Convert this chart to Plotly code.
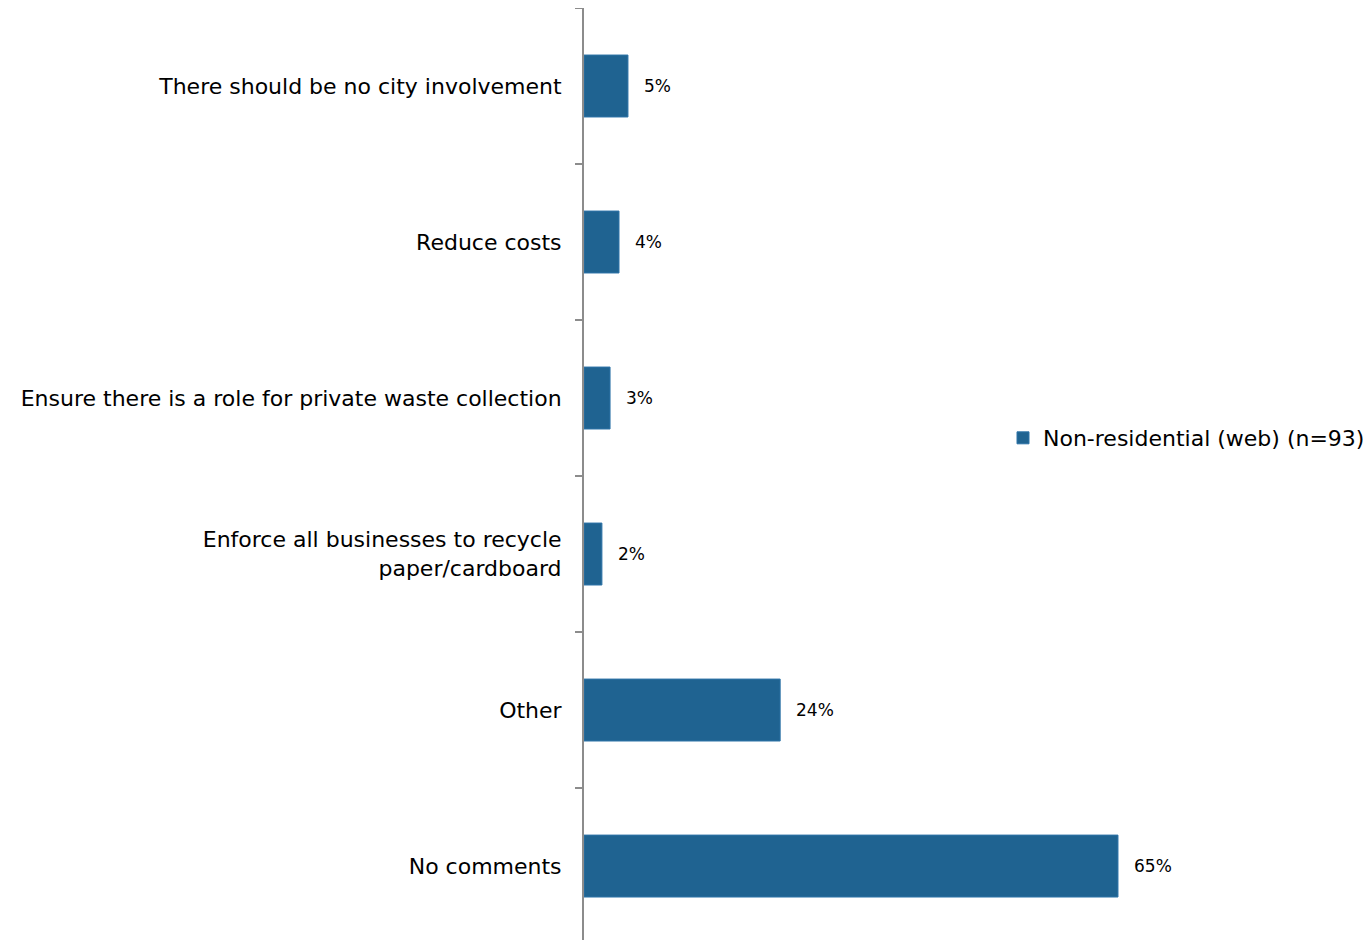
import plotly.graph_objects as go

categories = [
    "There should be no city involvement",
    "Reduce costs",
    "Ensure there is a role for private waste collection",
    "Enforce all businesses to recycle<br>paper/cardboard",
    "Other",
    "No comments",
]
values = [5.4, 4.3, 3.2, 2.2, 24.1, 65.6]
labels = ["5%", "4%", "3%", "2%", "24%", "65%"]
series_name = "Non-residential (web) (n=93)"

FONT = "DejaVu Sans, Verdana, sans-serif"
W, H = 1363, 932
L, R, T, B = 576, 10, 0, 0
px_per_pct = 8.14
xmax = (W - L - R) / px_per_pct

fig = go.Figure()
fig.add_trace(go.Bar(
    y=categories, x=values, orientation="h", name=series_name,
    marker=dict(color="#1F6391", line=dict(color="#2E74A8", width=1)),
    showlegend=True,
))

for c, v, t in zip(categories, values, labels):
    fig.add_annotation(x=v, y=c, text=t, showarrow=False, xanchor="left",
                       xshift=14, font=dict(size=17, color="#000000", family=FONT))

fig.update_layout(
    width=W, height=H,
    margin=dict(l=L, r=R, t=T, b=B, autoexpand=False),
    paper_bgcolor="white", plot_bgcolor="white",
    bargap=0.603,
    font=dict(family=FONT, size=22, color="#000000"),
    showlegend=True,
    legend=dict(x=995 / W, xref="container", xanchor="left",
                y=0.5386, yanchor="middle",
                font=dict(size=22), itemwidth=30, bgcolor="rgba(0,0,0,0)"),
    xaxis=dict(range=[0, xmax], visible=False, showgrid=False, zeroline=False),
    yaxis=dict(
        type="category", range=[5.474, -0.5],
        showline=True, linecolor="#8C8C8C", linewidth=2,
        ticks="outside", tickson="boundaries", ticklen=7, tickwidth=2,
        tickcolor="#8C8C8C", showgrid=False, ticklabelstandoff=16,
        tickfont=dict(size=22, color="#000000"),
    ),
)

fig.write_html("out.html")
